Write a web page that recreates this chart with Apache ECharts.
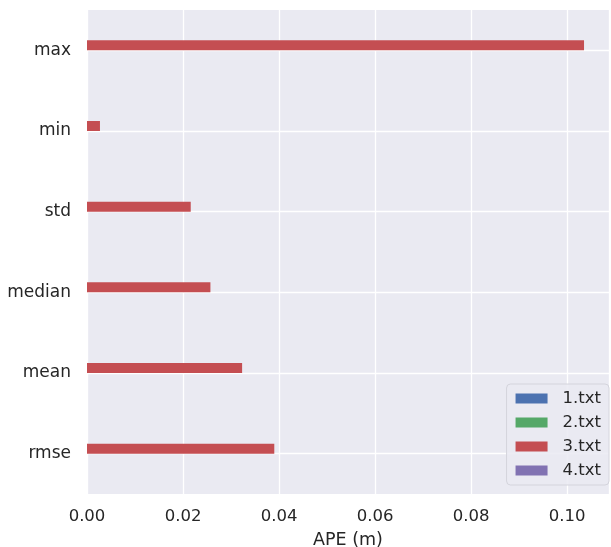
<!DOCTYPE html>
<html>
<head>
<meta charset="utf-8">
<script src="https://cdn.jsdelivr.net/npm/echarts@6/dist/echarts.min.js"></script>
<style>
  html, body { margin: 0; padding: 0; background: #fff; }
  #chart { width: 611px; height: 547px; }
</style>
</head>
<body>
<div id="chart"></div>
<script>
const categories = ['rmse', 'mean', 'median', 'std', 'min', 'max'];
const seriesNames = ['1.txt', '2.txt', '3.txt', '4.txt'];
const values1 = [0, 0, 0, 0, 0, 0];
const values2 = [0, 0, 0, 0, 0, 0];
const values3 = [0.039, 0.0323, 0.0257, 0.0216, 0.0027, 0.1035];
const values4 = [0, 0, 0, 0, 0, 0];
const xTicks = [0, 0.02, 0.04, 0.06, 0.08, 0.10];

const colors = { '1.txt': '#4C72B0', '2.txt': '#55A868', '3.txt': '#C44E52', '4.txt': '#8172B2' };
const allValues = { '1.txt': values1, '2.txt': values2, '3.txt': values3, '4.txt': values4 };

const chart = echarts.init(document.getElementById('chart'));
const font = 'DejaVu Sans';
const textColor = '#262626';

// echarts stacks horizontal bars top-down, matplotlib bottom-up: add in reverse
const series = seriesNames.slice().reverse().map(name => ({
  name: name,
  type: 'bar',
  data: allValues[name],
  barWidth: 10,
  barGap: '0%',
  itemStyle: { color: colors[name] }
}));

// horizontal grid lines sit on the category centres, like matplotlib
series.push({
  name: 'grid',
  type: 'line',
  data: [],
  z: 1,
  markLine: {
    silent: true,
    z: 1,
    symbol: 'none',
    label: { show: false },
    lineStyle: { color: '#fff', width: 1.3, type: 'solid' },
    data: categories.map((c, i) => ({ yAxis: i }))
  }
});

chart.setOption({
  backgroundColor: '#fff',
  animation: false,
  grid: {
    left: 87, right: 2, top: 10, bottom: 53,
    outerBoundsMode: 'none',
    show: true, backgroundColor: '#EAEAF2', borderWidth: 0
  },
  xAxis: {
    type: 'value',
    min: 0,
    max: 0.1087,
    interval: 0.02,
    name: 'APE (m)',
    nameLocation: 'middle',
    nameGap: 37,
    nameTextStyle: { fontFamily: font, fontSize: 17.5, color: textColor },
    axisLine: { show: false },
    axisTick: { show: false },
    axisLabel: {
      fontFamily: font, fontSize: 16.5, color: textColor, margin: 14,
      showMaxLabel: false,
      formatter: v => xTicks.some(t => Math.abs(t - v) < 1e-9) ? v.toFixed(2) : ''
    },
    splitLine: { show: true, lineStyle: { color: '#fff', width: 1.3 } }
  },
  yAxis: {
    type: 'category',
    data: categories,
    axisLine: { show: false },
    axisTick: { show: false },
    axisLabel: { fontFamily: font, fontSize: 17, color: textColor, margin: 16 },
    splitLine: { show: false }
  },
  legend: {
    data: seriesNames,
    orient: 'vertical',
    right: 2,
    bottom: 62,
    itemWidth: 32,
    itemHeight: 10,
    itemGap: 7,
    icon: 'rect',
    padding: [6, 8, 6, 9],
    backgroundColor: 'rgba(234,234,242,0.85)',
    borderColor: '#d4d4dc',
    borderWidth: 1,
    borderRadius: 4,
    textStyle: { fontFamily: font, fontSize: 16.5, color: textColor, padding: [0, 0, 0, 10] }
  },
  series: series
});
window.addEventListener('resize', function () { chart.resize(); });
</script>
</body>
</html>
